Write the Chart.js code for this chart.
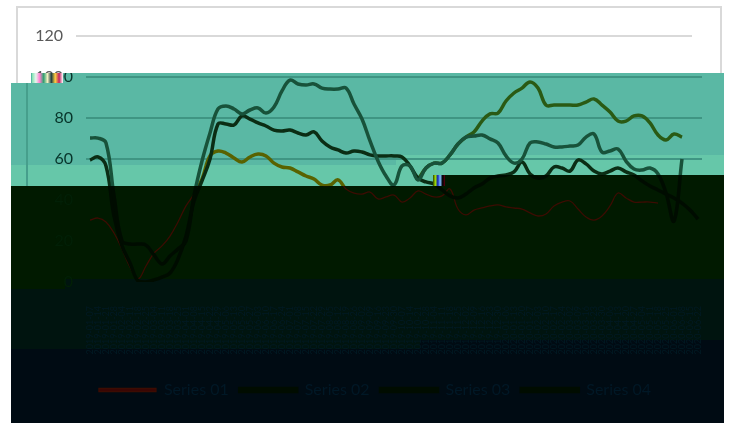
<!DOCTYPE html>
<html>
<head>
<meta charset="utf-8">
<script src="https://cdn.jsdelivr.net/npm/chart.js@4"></script>
<style>
html, body { margin: 0; padding: 0; background: #fff; }
#stage { position: relative; width: 733px; height: 423px; overflow: hidden; background: #fff; }
#stage canvas { position: absolute; top: 0; }
.block { position: absolute; }
</style>
</head>
<body>
<div id="stage"></div>
<script>
// the axis and legend text in the dark bands of the picture cannot be read, so the date labels and series names are stand-ins
const seriesNames = ['Series 01', 'Series 02', 'Series 03', 'Series 04'];
const yTicks = [0, 20, 40, 60, 80, 100, 120];

const series1 = [30.2, 31.2, 29.3, 23.9, 16.1, 7.3, 1.5, 7.8, 14.1, 17.6, 22.4, 29.3, 37.1, 42.9, 50.2, 61.5, 63.9, 62.9, 60.5, 58.5,
    61, 62.4, 61.5, 58, 56.1, 55.6, 53.7, 51.7, 50.2, 47.3, 47.3, 49.8, 45.4, 43.4, 42.9, 43.9, 40.5, 41.5, 42.4, 39,
    41, 44.4, 42.9, 41.5, 42, 45.4, 35.6, 32.7, 35.1, 36.1, 37.1, 37.6, 36.6, 36.1, 35.6, 33.7, 32.2, 33.2, 37.1, 39,
    39.5, 35.6, 31.7, 30.2, 32.2, 37.1, 43.4, 41, 39, 39, 39, 38.5, null, null, null, null, null];
const series2 = [59.5, 61, 56.6, 32.2, 17.6, 9.3, 0.5, 0, 1, 2.4, 4.4, 11.2, 22.4, 39.5, 49.3, 60, 77.1, 77.1, 76.6, 81,
    79.5, 77.6, 76.1, 74.1, 73.7, 74.1, 72.7, 71.7, 73.2, 68.8, 65.9, 64.4, 62.9, 63.9, 63.4, 62, 61.5, 61.5, 61.5, 61,
    56.6, 50.7, 48.8, 47.8, 44.9, 42, 41, 42.9, 45.9, 47.8, 50.7, 51.7, 52.2, 53.7, 58.5, 52.7, 50.7, 51.7, 56.1, 55.6,
    54.1, 59.5, 57.6, 54.1, 52.7, 54.1, 55.6, 53.7, 52.2, 49.3, 46.8, 44.9, 42.9, 41, 38.5, 35.1, 30.7];
const series3 = [70.2, 70.2, 67.8, 42, 20, 18.5, 18.5, 18, 13.2, 8.8, 12.7, 16.1, 20, 42, 59, 72.7, 84.4, 85.9, 84.4, 82,
    83.9, 84.9, 82.4, 85.4, 93.2, 98.5, 96.6, 96.1, 96.6, 94.6, 94.1, 94.1, 94.6, 86.8, 79.5, 68.8, 59, 51.7, 47.3, 56.6,
    56.6, 49.8, 55.6, 58, 58, 62, 67.3, 70.7, 71.2, 71.7, 69.8, 67.8, 61.5, 58, 60, 67.8, 68.3, 67.3, 65.9, 65.9,
    66.3, 66.8, 70.7, 72.2, 63.4, 63.9, 64.9, 59, 55.1, 54.6, 55.6, 52.7, 43.4, 29.8, 60, null, null];
const series4 = [null, null, null, null, null, null, null, null, null, null, null, null, null, null, null, null, null, null, null, null,
    null, null, null, null, null, null, null, null, null, null, null, null, null, null, null, null, null, null, null, null,
    null, 49.8, 55.6, 58, 58, 62, 67.3, 70.7, 73.2, 78.5, 82, 82.4, 88.3, 92.2, 94.6, 97.6, 94.6, 86.3, 86.3, 86.3,
    86.3, 86.3, 87.8, 89.3, 86.3, 82.9, 78.5, 78.5, 81, 81, 77.6, 71.7, 69.3, 72.2, 70.7, null, null];

const categories = [];
for (let i = 0; i < series2.length; i++) {
    const d = new Date(Date.UTC(2019, 0, 7 + i * 7));
    categories.push(d.toISOString().slice(0, 10));
}

// look of the picture in each part: plain at the top, teal in the middle, nearly black below
const looks = {
    top: { yText: '#595959', xText: '#595959', legendText: '#595959', grid: '#d9d9d9', lines: ['#ed7d31', '#4472c4', '#a5a5a5', '#ffc000'], widths: [3, 3, 3, 3], keys: ['#ed7d31', '#4472c4', '#a5a5a5', '#ffc000'] },
    mid: { yText: '#07342a', xText: '#07342a', legendText: '#07342a', grid: '#3f9583', lines: ['#596200', '#0b2d14', '#18523a', '#2a5a14'], widths: [3.5, 3.5, 3.5, 3.5], keys: ['#596200', '#0b2d14', '#18523a', '#2a5a14'] },
    dark: { yText: '#022006', xText: '#001a24', legendText: '#001826', grid: 'rgba(0,0,0,0)', lines: ['#3c0c02', '#000c00', '#000c00', '#000c00'], widths: [1.3, 3.5, 3.5, 3.5], keys: ['#3a0404', '#2a0000', '#000000', '#000000'] }
};

const stage = document.getElementById('stage');

// the legend sits centred on the whole frame, not on the space left of the right margin
const legendShift = {
    id: 'legendShift',
    afterLayout(chart) {
        chart.legend.left += 19;
        chart.legend.right += 19;
    }
};

function addBlock(x, y, w, h, background) {
    const el = document.createElement('div');
    el.className = 'block';
    el.style.cssText = `left:${x}px;top:${y}px;width:${w}px;height:${h}px;background:${background}`;
    stage.appendChild(el);
}

function addChart(look, left, clip) {
    const canvas = document.createElement('canvas');
    canvas.width = 733;
    canvas.height = 423;
    canvas.style.left = left + 'px';
    canvas.style.clipPath = clip;
    stage.appendChild(canvas);
    const data = [series1, series2, series3, series4];
    new Chart(canvas.getContext('2d'), {
        type: 'line',
        plugins: [legendShift],
        data: {
            labels: categories,
            datasets: data.map((values, i) => ({
                label: seriesNames[i],
                data: values,
                borderColor: look.lines[i],
                backgroundColor: look.keys[i],
                borderWidth: look.widths[i],
                pointRadius: 0,
                tension: 0.4,
                order: i === 2 ? 0 : (i === 1 ? 1 : 2)
            }))
        },
        options: {
            responsive: false,
            animation: false,
            layout: { padding: { top: 36, right: 41, left: 0, bottom: 15 } },
            scales: {
                x: {
                    offset: true,
                    grid: { display: false },
                    border: { display: false },
                    ticks: {
                        autoSkip: false,
                        maxRotation: 90,
                        minRotation: 90,
                        padding: 16,
                        color: look.xText,
                        font: { family: 'Lato', size: 9 }
                    },
                    afterFit: scale => { scale.height = 89; }
                },
                y: {
                    min: 0,
                    max: 120,
                    afterBuildTicks: scale => { scale.ticks = yTicks.map(v => ({ value: v })); },
                    grid: { color: look.grid, lineWidth: 2, drawTicks: false },
                    border: { display: false },
                    ticks: { padding: 13, color: look.yText, font: { family: 'Lato', size: 16 } },
                    afterFit: scale => { scale.width = 76; }
                }
            },
            plugins: {
                legend: {
                    position: 'bottom',
                    labels: {
                        boxWidth: 57,
                        boxHeight: 3,
                        padding: 11,
                        color: look.legendText,
                        font: { family: 'Lato', size: 16 },
                        sort: (a, b) => a.datasetIndex - b.datasetIndex
                    }
                },
                tooltip: { enabled: false }
            }
        }
    });
}

// frame of the white top part
addBlock(16, 6, 706, 2, '#d9d9d9');
addBlock(16, 6, 2, 78, '#d9d9d9');
addBlock(720, 6, 2, 68, '#d9d9d9');
addChart(looks.top, 0, 'polygon(0 0, 733px 0, 733px 73px, 0 73px)');

// bands behind the shifted lower part
addBlock(31, 73, 693, 10, '#5ab8a4');
addBlock(11, 83, 713, 72, '#5ab8a4');
addBlock(11, 155, 385, 10, '#5ab8a4');
addBlock(396, 155, 328, 20, '#66c7a9');
addBlock(11, 165, 385, 21, '#66c7a9');
addBlock(396, 175, 46, 11, '#66c7a9');
addBlock(26, 83, 2, 103, '#469f8c');
addBlock(11, 186, 431, 93, '#011a00');
addBlock(442, 175, 282, 104, '#011a00');
addBlock(11, 279, 54, 10, '#011a00');
addBlock(65, 279, 659, 10, '#00140f');
addBlock(11, 289, 54, 60, '#00140f');
addBlock(65, 289, 355, 60, '#00140f');
addBlock(420, 289, 304, 51, '#00140f');
addBlock(11, 349, 409, 74, '#000b13');
addBlock(420, 340, 304, 83, '#000b13');

addChart(looks.mid, 10, 'polygon(1px 73px, 714px 73px, 714px 165px, 714px 175px, 432px 175px, 432px 186px, 1px 186px)');
addChart(looks.dark, 10, 'polygon(1px 186px, 432px 186px, 432px 175px, 714px 175px, 714px 423px, 1px 423px)');

// bits of broken image
addBlock(32, 73, 31, 10, 'linear-gradient(90deg,#7fe3b0,#e8f5ee,#ff80d0,#30a070,#f0f0c0,#204040,#ffd040,#c02060,#fff)');
addBlock(433, 175, 12, 11, 'linear-gradient(90deg,#304000,#a0e000,#1020c0,#80c0ff,#000,#600010)');
</script>
</body>
</html>
